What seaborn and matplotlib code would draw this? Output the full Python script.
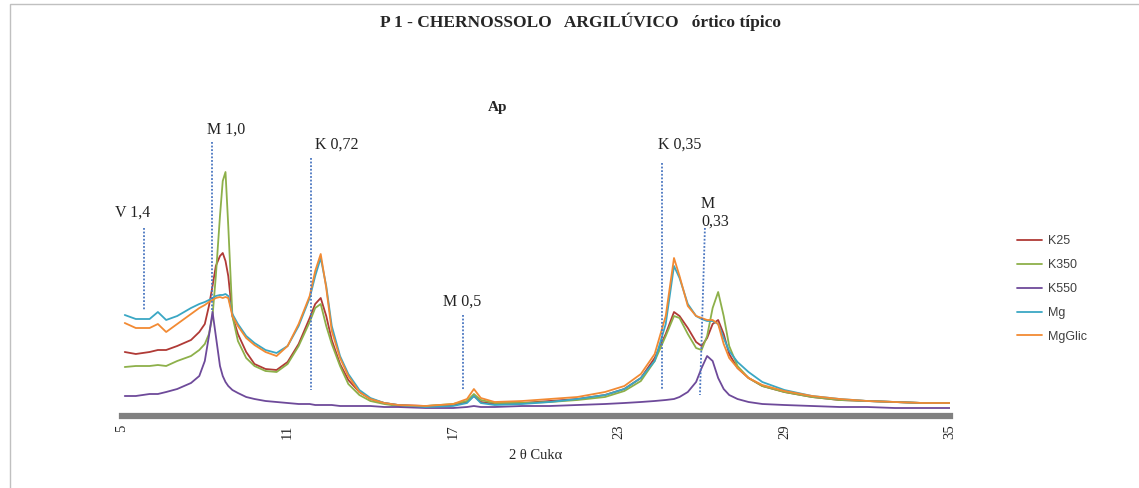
import matplotlib
matplotlib.use("Agg")
import matplotlib.pyplot as plt
import seaborn as sns
import pandas as pd
from matplotlib.patches import Rectangle

# ---------------- data ----------------
two_theta = [5.1, 5.5, 6.0, 6.3, 6.6, 7.0, 7.5, 7.8, 8.0, 8.15, 8.28, 8.4, 8.55, 8.65,
             8.75, 8.85, 9.0, 9.2, 9.5, 9.8, 10.2, 10.6, 11.0, 11.4, 11.8, 12.0, 12.2,
             12.4, 12.6, 12.9, 13.2, 13.6, 14.0, 14.5, 15.0, 16.0, 17.0, 17.5, 17.75,
             18.0, 18.5, 19.5, 20.5, 21.5, 22.5, 23.2, 23.8, 24.3, 24.7, 25.0, 25.2,
             25.5, 25.8, 26.0, 26.2, 26.4, 26.6, 26.8, 27.0, 27.3, 27.7, 28.2, 29.0,
             30.0, 31.0, 32.0, 33.0, 34.0, 35.0]

k25 = [64, 62, 64, 66, 66, 70, 76, 84, 92, 110, 130, 150, 160, 163,
       155, 140, 100, 82, 64, 52, 47, 46, 54, 72, 98, 112, 118,
       100, 76, 52, 36, 24, 17, 13, 11, 10, 11, 14, 20,
       14, 12, 13, 15, 17, 21, 27, 38, 58, 82, 104, 100,
       88, 74, 70, 78, 92, 96, 82, 62, 48, 38, 30, 24,
       19, 16, 15, 14, 13, 13]

k350 = [49, 50, 50, 51, 50, 55, 60, 66, 72, 82, 100, 140, 200, 235,
        244, 190, 100, 75, 58, 50, 45, 44, 52, 70, 94, 108, 112,
        90, 72, 50, 32, 21, 15, 12, 10, 10, 12, 15, 22,
        16, 13, 13, 14, 16, 19, 25, 35, 55, 80, 100, 98,
        82, 68, 66, 80, 108, 124, 100, 70, 50, 38, 30, 24,
        19, 16, 15, 14, 13, 13]

k550 = [20, 20, 22, 22, 24, 27, 33, 40, 55, 80, 104, 80, 50, 40,
        34, 30, 26, 23, 19, 17, 15, 14, 13, 12, 12, 11, 11,
        11, 11, 10, 10, 10, 10, 9, 9, 8, 8, 9, 10,
        9, 9, 10, 10, 11, 12, 13, 14, 15, 16, 17, 19,
        24, 34, 48, 60, 55, 38, 27, 21, 17, 14, 12, 11,
        10, 9, 9, 8, 8, 8]

mg = [101, 97, 97, 104, 96, 100, 108, 112, 114, 116, 118, 120, 121, 121,
      122, 120, 102, 92, 80, 73, 66, 63, 70, 90, 118, 140, 158,
      130, 90, 60, 42, 26, 18, 13, 11, 9, 10, 13, 20,
      13, 11, 12, 14, 17, 21, 27, 38, 55, 92, 150, 138,
      112, 100, 97, 95, 95, 92, 78, 65, 54, 44, 34, 26,
      20, 17, 15, 14, 13, 13]

mgglic = [93, 88, 88, 92, 84, 92, 102, 108, 111, 114, 116, 118, 119, 118,
          119, 118, 100, 90, 78, 71, 64, 60, 70, 92, 120, 145, 162,
          128, 85, 58, 40, 24, 17, 13, 11, 10, 12, 17, 27,
          18, 14, 15, 17, 19, 24, 30, 42, 62, 100, 158, 140,
          110, 100, 98, 96, 96, 92, 72, 58, 48, 38, 31, 25,
          20, 17, 15, 14, 13, 13]

series_names = ["K25", "K350", "K550", "Mg", "MgGlic"]
series_colors = ["#B03A36", "#8DB04A", "#6E4A9A", "#3AA7C4", "#F28A33"]

x_ticks = [5, 11, 17, 23, 29, 35]

# reflection markers: label, x position (top, bottom), y range
marker_labels = ["V 1,4", "M 1,0", "K 0,72", "M 0,5", "K 0,35", "M\n0,33"]
marker_x_top = [5.80, 8.26, 11.85, 17.36, 24.57, 26.12]
marker_x_bot = [5.80, 8.26, 11.85, 17.36, 24.57, 25.94]
marker_y_top = [188, 274, 258, 101, 253, 188]
marker_y_bot = [106, 104, 26, 26, 26, 21]
label_x = [5.4, 8.77, 12.79, 17.32, 25.2, 25.98]
label_y = [203, 286, 271, 114, 271, 203]

# ---------------- build long table ----------------
frames = []
for name, vals in zip(series_names, [k25, k350, k550, mg, mgglic]):
    frames.append(pd.DataFrame({"two_theta": two_theta, "intensity": vals, "serie": name}))
df = pd.concat(frames, ignore_index=True)

# ---------------- figure ----------------
sns.set_theme(style="white")
plt.rcParams["font.family"] = ["Liberation Serif", "DejaVu Serif"]

fig = plt.figure(figsize=(11.39, 4.88), dpi=100)
ax = fig.add_axes([122 / 1139, 72 / 488, 828 / 1139, 326 / 488])

sns.lineplot(data=df, x="two_theta", y="intensity", hue="serie",
             hue_order=series_names, palette=series_colors,
             sort=False, estimator=None, linewidth=1.3, ax=ax, legend=True)

ax.set_xlim(5, 35)
ax.set_ylim(0, 326)
ax.set_xticks(x_ticks)
ax.set_xticklabels([str(t) for t in x_ticks], rotation=90, fontsize=10.5,
                   family=["Liberation Serif"])
ax.tick_params(axis="x", length=0, pad=6)
ax.set_yticks([])
ax.set_ylabel("")
ax.set_xlabel("2 θ Cukα", fontsize=10.5, family=["Liberation Serif", "DejaVu Serif"],
              labelpad=7)

for s in ["top", "right", "left"]:
    ax.spines[s].set_visible(False)
ax.spines["bottom"].set_color("#808080")
ax.spines["bottom"].set_linewidth(4.5)
ax.patch.set_alpha(0)

# reflection markers
for lab, xt, xb, yt, yb, lx, ly in zip(marker_labels, marker_x_top, marker_x_bot,
                                      marker_y_top, marker_y_bot, label_x, label_y):
    ax.plot([xt, xb], [yt, yb], linestyle=(0, (1, 1)), color="#4A76C0", linewidth=1.3,
            clip_on=False)
    if "\n" in lab:
        ax.text(lx, ly, lab, ha="left", va="center", fontsize=11.5,
                family=["Liberation Serif"], linespacing=1.15, color="#222222")
    else:
        ax.text(lx, ly, lab, ha="center", va="center", fontsize=11.5,
                family=["Liberation Serif"], color="#222222")

# legend
handles, labels = ax.get_legend_handles_labels()
leg = ax.legend(handles, labels, loc="center left",
                bbox_to_anchor=(1006 / 1139, (488 - 289) / 488),
                bbox_transform=fig.transFigure, frameon=False,
                prop={"family": "Liberation Sans", "size": 9},
                handlelength=2.0, handletextpad=0.45, labelspacing=0.95)
for t in leg.get_texts():
    t.set_color("#404040")

# titles
fig.text(580 / 1139, (488 - 22) / 488, "P 1 - CHERNOSSOLO   ARGILÚVICO   órtico típico",
         ha="center", va="center", fontsize=12.5, fontweight="bold",
         family=["Liberation Serif"])
fig.text(498 / 1139, (488 - 108) / 488, "Ap", ha="center", va="center",
         fontsize=11, fontweight="bold", family=["Liberation Serif"])

# chart frame
fig.patches.append(Rectangle((10 / 1139, -0.2), 1.2, 1.2 - 4 / 488, fill=False,
                             edgecolor="#c0c0c0", linewidth=1.0,
                             transform=fig.transFigure, figure=fig))

fig.savefig("out.png", dpi=100)
